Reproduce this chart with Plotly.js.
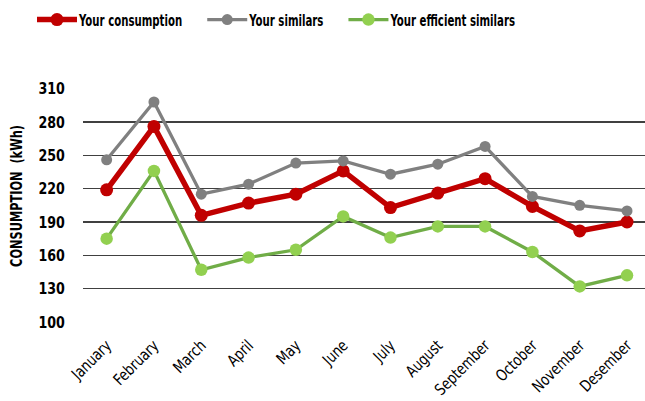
<!DOCTYPE html>
<html>
<head>
<meta charset="utf-8">
<script src="https://cdn.plot.ly/plotly-3.0.1.min.js"></script>
<style>
  html, body { margin: 0; padding: 0; background: #fff; }
  #chart { width: 645px; height: 401px; }
</style>
</head>
<body>
<div id="chart"></div>
<script>
// Monthly electricity consumption compared with similar households
const months = ["January", "February", "March", "April", "May", "June", "July",
                "August", "September", "October", "November", "Desember"];
const yourConsumption = [219, 276, 196, 207, 215, 236, 203, 216, 229, 204, 182, 190];
const yourSimilars = [246, 298, 215, 224, 243, 245, 233, 242, 258, 213, 205, 200];
const efficientSimilars = [175, 236, 147, 158, 165, 195, 176, 186, 186, 163, 132, 142];
const yTicks = [100, 130, 160, 190, 220, 250, 280, 310];

const FONT = "'DejaVu Sans Condensed', 'Liberation Sans Narrow', 'Arial Narrow', sans-serif";

const traces = [
  {
    name: "Your consumption", x: months, y: yourConsumption,
    type: "scatter", mode: "lines+markers",
    line: { color: "#c00000", width: 5.5 },
    marker: { color: "#c00000", size: 13 }
  },
  {
    name: "Your similars", x: months, y: yourSimilars,
    type: "scatter", mode: "lines+markers",
    line: { color: "#808080", width: 3.3 },
    marker: { color: "#808080", size: 11 }
  },
  {
    name: "Your efficient similars", x: months, y: efficientSimilars,
    type: "scatter", mode: "lines+markers",
    line: { color: "#70ad47", width: 3.3 },
    marker: { color: "#92d050", size: 12.5 }
  }
];

const layout = {
  width: 645, height: 401,
  margin: { l: 83, r: 0, t: 88, b: 79 },
  paper_bgcolor: "#ffffff", plot_bgcolor: "#ffffff",
  font: { family: FONT, color: "#000000" },
  showlegend: true,
  legend: {
    orientation: "h", x: 0.5, xanchor: "center", y: 1, yanchor: "top",
    xref: "container", yref: "container",
    font: { family: FONT, size: 15.5, weight: "bold", color: "#000000" },
    itemwidth: 40, tracegroupgap: 0
  },
  xaxis: {
    type: "category", range: [-0.5, 11.38],
    tickangle: -45, ticklabelstandoff: 10,
    tickfont: { family: FONT, size: 16 },
    showgrid: false, showline: false, zeroline: false,
    ticks: "", fixedrange: true
  },
  yaxis: {
    range: [100, 310.6], tickvals: yTicks,
    showgrid: true, gridcolor: "#404040", gridwidth: 1.4,
    zeroline: false, showline: false,
    ticks: "outside", ticklen: 14, tickcolor: "rgba(0,0,0,0)",
    tickfont: { family: FONT, size: 16, weight: "bold" },
    title: { text: "CONSUMPTION  (kWh)", font: { family: FONT, size: 15, weight: "bold" }, standoff: 8 }
  }
};

// Narrow the condensed glyphs further so the labels keep a tall, narrow look.
function squeeze(el, factor) {
  const w = el.getComputedTextLength();
  el.setAttribute("textLength", (w * factor).toFixed(1));
  el.setAttribute("lengthAdjust", "spacingAndGlyphs");
  return w * factor;
}

const TRANSLATE = /translate\(\s*([-\d.]+)[\s,]+([-\d.]+)\s*\)/;

function tidyText(gd) {
  gd.querySelectorAll(".ytick text").forEach(t => squeeze(t, 0.88));
  gd.querySelectorAll(".xtick text").forEach(t => squeeze(t, 0.88));
  const yt = gd.querySelector(".ytitle");
  if (yt) {
    squeeze(yt, 0.84);
    yt.parentNode.setAttribute("transform", "translate(0,-9)");
  }

  // re-pack the legend entries on one row after their text has been narrowed
  const legend = gd.querySelector(".legend");
  const scroll = legend.querySelector(".scrollbox");
  if (scroll) scroll.removeAttribute("clip-path");
  const items = gd.querySelectorAll(".legend .traces");
  const gap = 20;
  let x = null, y = null;
  items.forEach(g => {
    const t = g.querySelector(".legendtext");
    const w = squeeze(t, 0.73);
    const tx = parseFloat(t.getAttribute("x")) - 3;
    t.setAttribute("x", tx);
    const m = TRANSLATE.exec(g.getAttribute("transform"));
    if (x === null) { x = parseFloat(m[1]); y = parseFloat(m[2]); }
    g.setAttribute("transform", "translate(" + x + "," + y + ")");
    x += tx + w + gap;
  });

  // start the legend row near the left edge of the chart
  const firstLine = items[0].querySelector(".legendlines path");
  const left = firstLine.getBoundingClientRect().left;
  const lm = TRANSLATE.exec(legend.getAttribute("transform"));
  const lx = parseFloat(lm[1]) + (37 - left);
  const ly = parseFloat(lm[2]) + 3;
  legend.setAttribute("transform", "translate(" + lx + "," + ly + ")");
}

Plotly.newPlot("chart", traces, layout, { staticPlot: true, displayModeBar: false })
  .then(gd => tidyText(gd));
</script>
</body>
</html>
